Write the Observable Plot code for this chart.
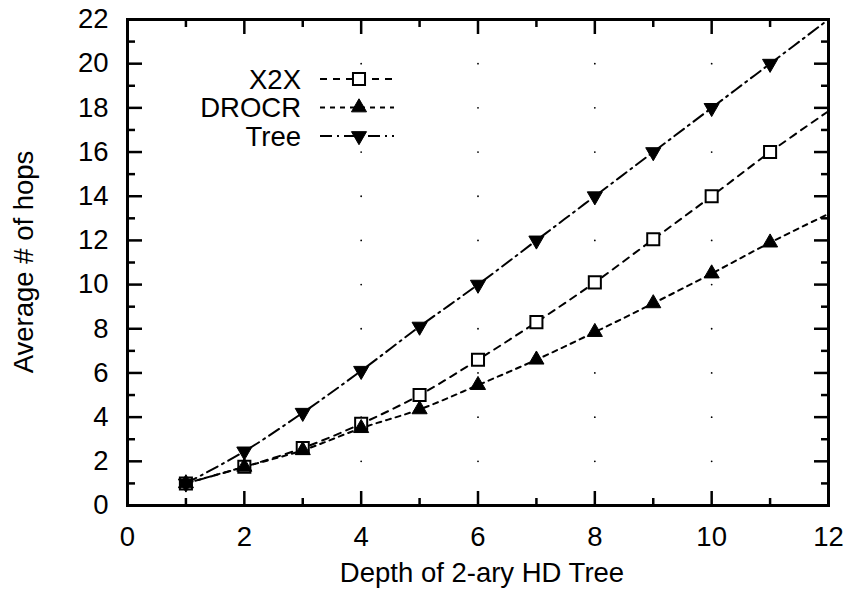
<!DOCTYPE html>
<html>
<head>
<meta charset="utf-8">
<script src="https://cdn.jsdelivr.net/npm/d3@7"></script>
<script src="https://cdn.jsdelivr.net/npm/@observablehq/plot@0.6"></script>
<style>
  html, body { margin: 0; padding: 0; background: #fff; }
  #chart { width: 851px; height: 594px; }
  svg { font-family: "Liberation Sans", Arial, Helvetica, sans-serif; }
</style>
</head>
<body>
<div id="chart"></div>
<script>
// ---- data ----
const depth = [1, 2, 3, 4, 5, 6, 7, 8, 9, 10, 11];
const x2x   = [1.0, 1.75, 2.6, 3.7, 5.0, 6.6, 8.3, 10.1, 12.05, 14.0, 16.0];
const drocr = [1.0, 1.75, 2.5, 3.5, 4.35, 5.45, 6.6, 7.85, 9.15, 10.5, 11.9];
const tree  = [1.0, 2.45, 4.2, 6.1, 8.1, 10.0, 12.0, 14.0, 16.0, 18.0, 20.0];
// fitted curves continue to the right edge (depth 12)
const curveEndDepth = 12;
const x2xEnd = 17.85, drocrEnd = 13.2, treeEnd = 22.0;

const seriesNames = ["X2X", "DROCR", "Tree"];
const xMajor = [0, 2, 4, 6, 8, 10, 12];
const xMinor = [1, 3, 5, 7, 9, 11];
const yMajor = [0, 2, 4, 6, 8, 10, 12, 14, 16, 18, 20, 22];
const yMinor = [1, 3, 5, 7, 9, 11, 13, 15, 17, 19, 21];
const gridX = [4, 6, 8, 10];
const gridY = [2, 4, 6, 8, 10, 12, 14, 16, 18, 20];
const xTitle = "Depth of 2-ary HD Tree";
const yTitle = "Average # of hops";

// ---- build tables ----
const pts = (vals) => depth.map((d, i) => ({depth: d, value: vals[i]}));
const curve = (vals, end) => [...pts(vals), {depth: curveEndDepth, value: end}];
const gridDots = gridX.flatMap(x => gridY.map(y => ({x, y})));

const triangleDown = {
  draw(context, size) {
    const y = -Math.sqrt(size / (Math.sqrt(3) * 3));
    context.moveTo(0, -y * 2);
    context.lineTo(-Math.sqrt(3) * y, y);
    context.lineTo(Math.sqrt(3) * y, y);
    context.closePath();
  }
};

const styles = {
  X2X:   {dash: "7,6", symbol: "square", r: 6.8},
  DROCR: {dash: "5,5", symbol: "triangle", r: 5.6},
  Tree:  {dash: "12,5,2,5", symbol: triangleDown, r: 5.6}
};

const FS = 27.5;
const W = 851, H = 594;
const ML = 127, MR = 23, MT = 19, MB = 89;

const plot = Plot.plot({
  width: W, height: H,
  marginLeft: ML, marginRight: MR, marginTop: MT, marginBottom: MB,
  style: {fontFamily: '"Liberation Sans", Arial, sans-serif', fontSize: FS + "px", background: "white", color: "black"},
  x: {domain: [0, 12]},
  y: {domain: [0, 22]},
  marks: [
    Plot.dot(gridDots, {x: "x", y: "y", r: 0.9, fill: "black"}),
    Plot.line(curve(x2x, x2xEnd), {x: "depth", y: "value", curve: "catmull-rom", stroke: "black", strokeWidth: 2, strokeDasharray: styles.X2X.dash}),
    Plot.line(curve(drocr, drocrEnd), {x: "depth", y: "value", curve: "catmull-rom", stroke: "black", strokeWidth: 2, strokeDasharray: styles.DROCR.dash}),
    Plot.line(curve(tree, treeEnd), {x: "depth", y: "value", curve: "catmull-rom", stroke: "black", strokeWidth: 2, strokeDasharray: styles.Tree.dash}),
    Plot.dot(pts(x2x), {x: "depth", y: "value", symbol: "square", r: styles.X2X.r, fill: "white", stroke: "black", strokeWidth: 2}),
    Plot.dot(pts(drocr), {x: "depth", y: "value", symbol: "triangle", r: styles.DROCR.r, fill: "black", stroke: "black", strokeWidth: 1}),
    Plot.dot(pts(tree), {x: "depth", y: "value", symbol: triangleDown, r: styles.Tree.r, fill: "black", stroke: "black", strokeWidth: 1}),
    // tick labels
    Plot.axisX({ticks: xMajor, tickSize: 0, tickPadding: 21, tickFormat: d3.format("d"), label: null, fontSize: FS}),
    Plot.axisY({ticks: yMajor, tickSize: 0, tickPadding: 19, tickFormat: d3.format("d"), label: null, fontSize: FS}),
    // inward ticks, mirrored
    Plot.axisX({anchor: "bottom", ticks: xMajor, tickSize: -14, text: null, label: null, strokeWidth: 2.5}),
    Plot.axisX({anchor: "bottom", ticks: xMinor, tickSize: -7, text: null, label: null, strokeWidth: 2.5}),
    Plot.axisX({anchor: "top", ticks: xMajor, tickSize: -14, text: null, label: null, strokeWidth: 2.5}),
    Plot.axisX({anchor: "top", ticks: xMinor, tickSize: -7, text: null, label: null, strokeWidth: 2.5}),
    Plot.axisY({anchor: "left", ticks: yMajor, tickSize: -15, text: null, label: null, strokeWidth: 2.5}),
    Plot.axisY({anchor: "left", ticks: yMinor, tickSize: -8, text: null, label: null, strokeWidth: 2.5}),
    Plot.axisY({anchor: "right", ticks: yMajor, tickSize: -15, text: null, label: null, strokeWidth: 2.5}),
    Plot.axisY({anchor: "right", ticks: yMinor, tickSize: -8, text: null, label: null, strokeWidth: 2.5}),
    Plot.frame({stroke: "black", strokeWidth: 3})
  ]
});

document.getElementById("chart").appendChild(plot);

// ---- titles & legend (drawn into the same svg) ----
const svg = d3.select(plot.tagName.toLowerCase() === "svg" ? plot : plot.querySelector("svg"));
svg.append("text")
  .attr("x", 482).attr("y", 582)
  .attr("text-anchor", "middle").attr("font-size", FS).attr("fill", "black")
  .text(xTitle);
svg.append("text")
  .attr("transform", `translate(33, 262) rotate(-90)`)
  .attr("text-anchor", "middle").attr("font-size", FS).attr("fill", "black")
  .text(yTitle);

const leg = svg.append("g");
const legRows = [79, 107.5, 136];
seriesNames.forEach((name, i) => {
  const s = styles[name];
  const cy = legRows[i];
  leg.append("text").attr("x", 301).attr("y", cy + 9.8)
    .attr("text-anchor", "end").attr("font-size", FS).attr("fill", "black").text(name);
  leg.append("line").attr("x1", 320).attr("x2", 394).attr("y1", cy).attr("y2", cy)
    .attr("stroke", "black").attr("stroke-width", 2).attr("stroke-dasharray", s.dash);
  const sym = typeof s.symbol === "string"
    ? (s.symbol === "square" ? d3.symbolSquare : d3.symbolTriangle)
    : s.symbol;
  leg.append("path")
    .attr("d", d3.symbol(sym, Math.PI * s.r * s.r)())
    .attr("transform", `translate(359, ${cy})`)
    .attr("fill", name === "X2X" ? "white" : "black")
    .attr("stroke", "black").attr("stroke-width", name === "X2X" ? 2 : 1);
});
</script>
</body>
</html>
